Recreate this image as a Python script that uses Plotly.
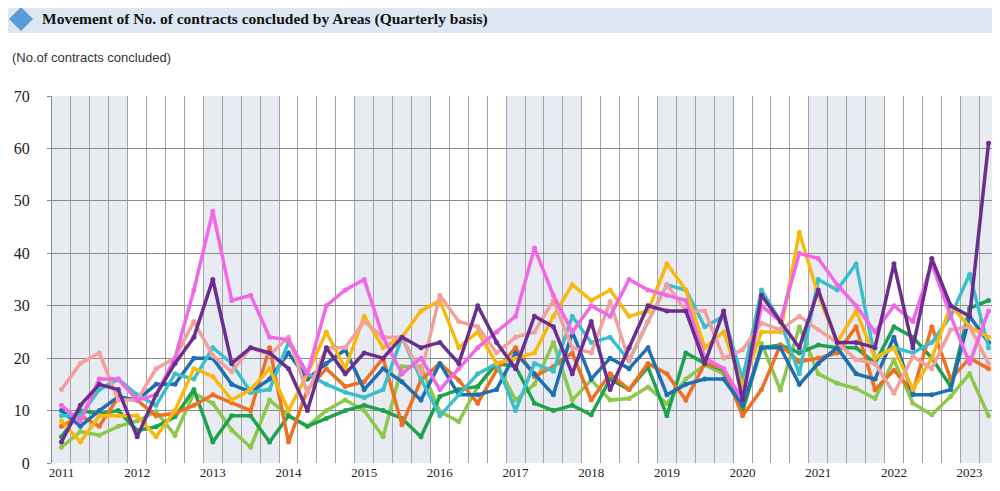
import plotly.graph_objects as go

years = [str(y) for y in range(2011, 2024)]
n_quarters = 50

purple = [4, 11, 15, 14, 5, 13, 19, 24, 35, 19, 22, 21, 18, 10, 22, 17, 21, 20, 24, 22,
          23, 19, 30, 23, 18, 28, 26, 17, 27, 14, 22, 30, 29, 29, 19, 29, 12, 32, 27, 22,
          33, 23, 23, 22, 38, 22, 39, 30, 28, 61]
magenta = [11, 8, 16, 16, 12, 13, 20, 33, 48, 31, 32, 24, 23.5, 17, 30, 33, 35, 24, 17, 20,
           14, 18, 22, 25, 28, 41, 32, 25, 30, 28, 35, 33, 32, 31, 20, 18, 12, 30, 27, 40,
           39, 34, 30, 25, 30, 27, 38, 28, 19, 29]
cyan = [9, 9, 14, 16, 13, 11, 17, 16, 22, 19, 13.5, 14, 23, 17, 15, 13.5, 12.5, 14, 24, 16,
        9, 13, 17, 19, 10, 19, 17.5, 28, 23, 24, 19.5, 27, 34, 33, 26, 28, 16, 33, 27, 17,
        35, 33, 38, 20, 22, 21, 23, 28, 36, 22]
yellow = [8, 4, 9, 9, 9, 5, 10, 18, 16.5, 12, 14, 18, 10, 17, 25, 18, 28, 22, 24, 29,
          31, 22, 25, 19, 20, 21, 28, 34, 31, 33, 28, 29, 38, 33, 22, 25, 14.6, 25, 25, 44,
          32, 23, 29, 20, 22, 14, 20, 30, 26, 24]
orange = [7, 9, 7, 12.5, 12, 9, 9.5, 11, 13, 11.5, 10, 22, 4, 14, 18, 14.6, 15.5, 20, 7.3, 15.8,
          19, 15.8, 11.4, 17.7, 22, 16.5, 18.4, 21, 12, 17, 14, 19, 17, 12, 19, 18, 9, 14, 22.5, 19.3,
          20, 21, 26, 14, 17.7, 13.5, 26, 16, 20, 18]
blue = [10, 7, 10, 12.6, 12, 15, 15, 20, 20, 15, 13.5, 16, 21, 16, 19, 21.6, 14, 18, 15.5, 12,
        19, 13, 13, 14, 21, 17, 13, 25, 16, 20, 18, 22, 13, 15, 16, 16, 11, 22, 22, 15,
        19, 22, 17, 16, 24, 13, 13, 14, 28, 23]
green = [5, 10, 9.4, 10, 6.2, 6.9, 8.8, 14, 4, 9, 9, 4, 9, 7, 8.5, 10, 11, 10, 8.5, 5,
         12.7, 14, 14.6, 19, 18.4, 11.4, 10, 11, 9.2, 16, 14, 18.3, 9, 21, 19, 17.7, 10, 22, 22.5, 21,
         22.5, 22, 22, 19, 26, 24, 20, 14.6, 29.5, 31]
lgreen = [3, 6, 5.3, 7, 8, 9.8, 5.3, 13.3, 11.4, 6.3, 3, 12, 9, 7, 10, 12, 10, 5, 18.4, 18.4,
          9.8, 7.9, 14.6, 19, 12, 15, 23, 12, 15.8, 12, 12.3, 14.5, 11.3, 16, 18.7, 17, 9.8, 22.8, 13.9, 26,
          17, 15.2, 14.2, 12.3, 19.7, 11.4, 9.2, 12.7, 17, 9]
salmon = [14, 19, 21, 12, 12, 18, 20, 27, 20.5, 17.4, 22, 20.6, 24, 13.3, 22, 22, 27, 24, 24, 17,
          32, 27, 26, 21, 24, 25, 31, 22, 21, 30.8, 19.5, 27, 34, 29, 29, 20, 21.6, 26.7, 25.4, 28,
          25.4, 23, 19.7, 19, 13.3, 20.3, 18, 25.4, 26, 19]

series = [
    ("lgreen", lgreen, "#8cc84b"),
    ("green", green, "#1ea24d"),
    ("orange", orange, "#ee7023"),
    ("blue", blue, "#1e6eb4"),
    ("cyan", cyan, "#3cbfcb"),
    ("yellow", yellow, "#f7b90f"),
    ("salmon", salmon, "#f2a09b"),
    ("magenta", magenta, "#f068e6"),
    ("purple", purple, "#6b2d90"),
]

x = list(range(n_quarters))
fig = go.Figure()
for name, vals, col in series:
    fig.add_trace(go.Scatter(x=x, y=vals, mode="lines+markers", name=name,
                             line=dict(color=col, width=3.5),
                             marker=dict(color=col, size=5), showlegend=False,
                             hoverinfo="skip"))

# page body has an 8px margin: figure is laid out in page pixels minus that offset
OFF = 8
W, H = 1000 - OFF, 491 - OFF
L, T = 52 - OFF, 96 - OFF
pw, ph = 946, 367
R, B = W - L - pw, H - T - ph

def px(page_x):
    return (page_x - OFF - L) / pw

def py(page_y):
    return (T + ph - (page_y - OFF)) / ph

shapes = []
for k in range(0, len(years), 2):
    shapes.append(dict(type="rect", xref="x", yref="paper",
                       x0=4 * k - 0.5, x1=min(4 * k + 3.5, n_quarters - 0.5),
                       y0=0, y1=1, fillcolor="#e8ecf2", line=dict(width=0), layer="below"))
# title bar
shapes.append(dict(type="rect", xref="paper", yref="paper",
                   x0=px(0), x1=px(1010), y0=py(33), y1=py(0),
                   fillcolor="#dde7f3", line=dict(width=0), layer="below"))
shapes.append(dict(type="path", xref="paper", yref="paper",
                   xsizemode="pixel", ysizemode="pixel",
                   xanchor=px(21), yanchor=py(19),
                   path="M 0 12 L 12 0 L 0 -12 L -12 0 Z",
                   fillcolor="#5b9bd5", line=dict(width=0), layer="above"))

fig.update_layout(
    width=W, height=H,
    margin=dict(l=L, r=R, t=T, b=B),
    paper_bgcolor="white", plot_bgcolor="white",
    shapes=shapes,
    annotations=[
        dict(text="<b>Movement of No. of contracts concluded by Areas (Quarterly basis)</b>",
             xref="paper", yref="paper", x=px(40), y=py(19), xanchor="left", yanchor="middle",
             showarrow=False, font=dict(family="Liberation Serif", size=15.5, color="#111")),
        dict(text="(No.of contracts concluded)", xref="paper", yref="paper",
             x=px(10), y=py(57), xanchor="left", yanchor="middle", showarrow=False,
             font=dict(family="Liberation Sans", size=13, color="#333")),
    ],
    xaxis=dict(range=[-0.5, n_quarters - 0.5], tickmode="array",
               tickvals=[4 * i for i in range(len(years))], ticktext=years,
               showgrid=False, zeroline=False, ticks="",
               tickfont=dict(family="Liberation Serif", size=13, color="#222"),
               minor=dict(tickmode="linear", tick0=-0.5, dtick=1, showgrid=True,
                          gridcolor="#a3a3a3", gridwidth=1)),
    yaxis=dict(range=[0, 70], dtick=10, showgrid=True, gridcolor="#8a8a8a", gridwidth=1,
               zeroline=False, showline=True, linecolor="#8a8a8a", mirror=True,
               ticks="outside", ticklen=4, tickcolor="#8a8a8a", ticklabelstandoff=14,
               tickfont=dict(family="Liberation Serif", size=16, color="#222")),
)

fig.write_html("out.html")
